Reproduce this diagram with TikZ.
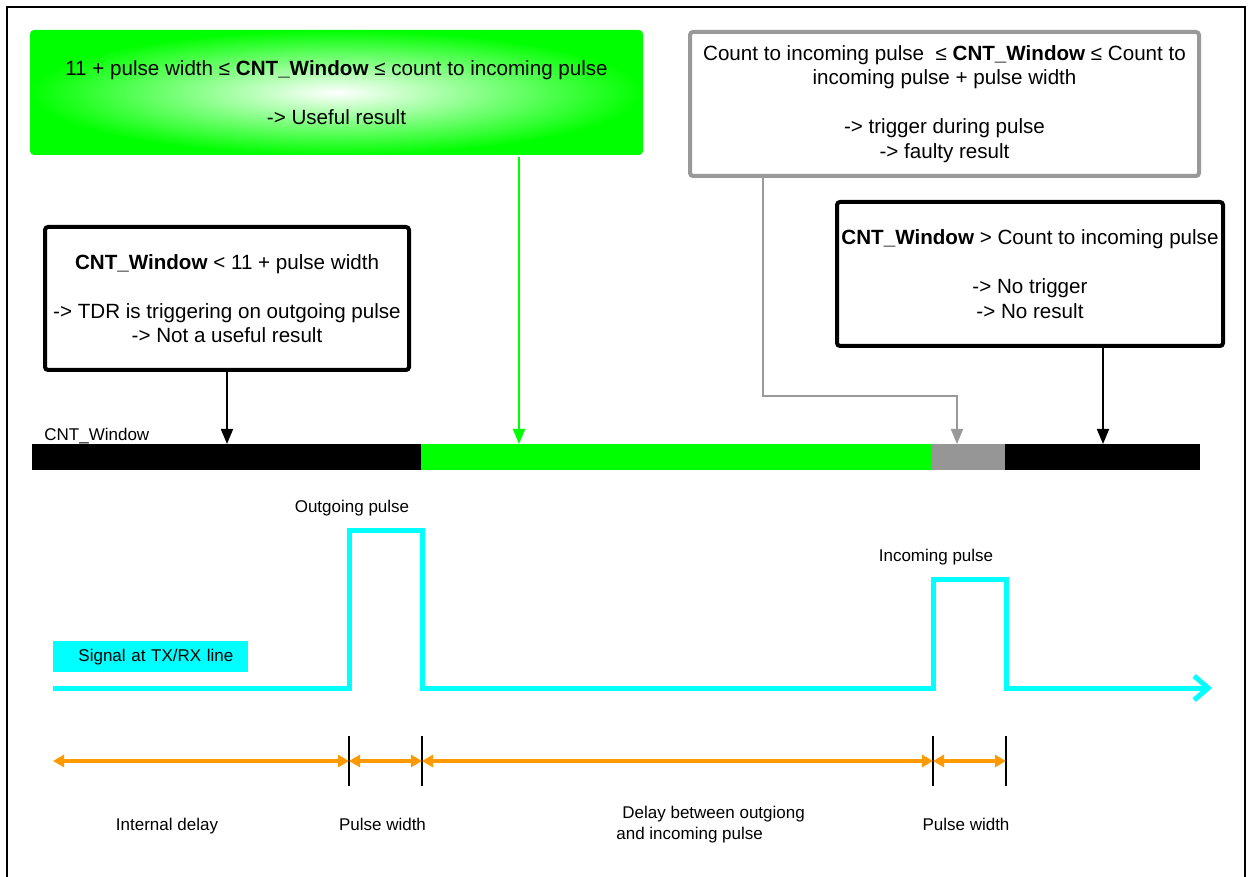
\documentclass[tikz,border=0pt]{standalone}
\usepackage{fontspec}
\setmainfont{Liberation Sans}
\usetikzlibrary{arrows.meta}
\definecolor{brightgreen}{RGB}{0,255,0}
\definecolor{pureCyan}{RGB}{0,255,255}
\definecolor{barGray}{RGB}{150,150,150}
\definecolor{lineGray}{RGB}{153,153,153}
\definecolor{dimOrange}{RGB}{255,153,0}
\newcommand{\boxfont}{\fontsize{10.3}{12.25}\selectfont}
\newcommand{\lblfont}{\fontsize{8.5}{10.5}\selectfont}
\tikzset{
  condbox/.style={draw=black, line width=2pt, rounded corners=1.5pt, align=center, inner sep=0pt, font=\boxfont},
  hint/.style={font=\lblfont, inner sep=0pt},
  barpart/.style={inner sep=0pt, minimum height=13pt, anchor=north west},
  pointer/.style={line width=0.9pt, -{Triangle[length=7.5pt,width=6pt]}},
  sigline/.style={pureCyan, line width=2.5pt},
  dimspan/.style={dimOrange, line width=2pt, {Triangle[length=5.5pt,width=6pt]}-{Triangle[length=5.5pt,width=6pt]}},
  dimtick/.style={line width=0.8pt}
}
\begin{document}
\begin{tikzpicture}[x=0.5pt, y=-0.5pt]
  \useasboundingbox (0,0) rectangle (1249,877);
  % Rahmen (unten offen)
  \draw[line width=0.6pt] (7,877) -- (7,7) -- (1245,7) -- (1245,877);

  % Bedingungen
  \node (useful) [condbox, draw=none, rounded corners=2pt, inner color=white, outer color=brightgreen,
    minimum width=306.5pt, minimum height=62.5pt] at (336.5,92.5)
    {11 + pulse width ≤ \textbf{CNT\_Window} ≤ count to incoming pulse\\[12.25pt]-> Useful result};
  \node (faulty) [condbox, draw=lineGray, minimum width=254.5pt, minimum height=72pt] at (944.5,104)
    {Count to incoming pulse \ ≤ \textbf{CNT\_Window} ≤ Count to\\incoming pulse + pulse width\\[12.25pt]-> trigger during pulse\\-> faulty result};
  \node (early) [condbox, minimum width=182pt, minimum height=71.5pt] at (227,298.5)
    {\textbf{CNT\_Window} < 11 + pulse width\\[12.25pt]-> TDR is triggering on outgoing pulse\\-> Not a useful result};
  \node (none) [condbox, minimum width=193pt, minimum height=72pt] at (1030,274)
    {\textbf{CNT\_Window} > Count to incoming pulse\\[12.25pt]-> No trigger\\-> No result};

  % CNT_Window Balken
  \node (segLow) [barpart, fill=black, minimum width=194.5pt] at (32,444) {};
  \node (segOk) [barpart, fill=brightgreen, minimum width=255pt] at (421,444) {};
  \node (segPulse) [barpart, fill=barGray, minimum width=37pt] at (931,444) {};
  \node (segHigh) [barpart, fill=black, minimum width=97.5pt] at (1005,444) {};
  \node (winlbl) [hint, anchor=base west] at (44,441) {CNT\_Window};

  % Pfeile auf den Balken
  \coordinate (hitG) at (519,444);
  \coordinate (bendF) at (763,396);
  \coordinate (hitF) at (957,444);
  \coordinate (hitN) at (1103,444);
  \draw[pointer] (early.south) -- (early.south |- segLow.north);
  \draw[pointer, brightgreen] (useful.south -| hitG) -- (hitG);
  \draw[pointer, lineGray] (faulty.south -| bendF) -- (bendF) -| (hitF);
  \draw[pointer] (none.south -| hitN) -- (hitN);

  % Signal
  \node (siglbl) [fill=pureCyan, font=\lblfont, inner xsep=7.5pt, inner ysep=0pt, text width=82.5pt, align=right,
    minimum height=15.5pt, anchor=north west] at (53,641) {Signal at TX/RX line};
  \draw[sigline, -{Straight Barb[length=7pt,width=12pt]}] (53,688) -- (349,688) -- (349,530) -- (422,530)
    -- (422,688) -- (933,688) -- (933,579) -- (1006,579) -- (1006,688) -- (1212,688);
  \node (outlbl) [hint, anchor=base] at (352,513) {Outgoing pulse};
  \node (inlbl) [hint, anchor=base] at (936,561) {Incoming pulse};

  % Zeitabschnitte
  \coordinate (t0) at (53,761);
  \coordinate (t1) at (349,761);
  \coordinate (t2) at (422,761);
  \coordinate (t3) at (933,761);
  \coordinate (t4) at (1006,761);
  \foreach \t in {t1,t2,t3,t4}
    \draw[dimtick] ([yshift=12.5pt]\t) -- ([yshift=-12.5pt]\t);
  \draw[dimspan] (t0) -- (t1);
  \draw[dimspan] (t1) -- (t2);
  \draw[dimspan] (t2) -- (t3);
  \draw[dimspan] (t3) -- (t4);
  \node (lblDelay) [hint, anchor=base] at (167,830) {Internal delay};
  \node (lblWidthA) [hint, anchor=base] at (382.5,830) {Pulse width};
  \node (lblGap) [hint, anchor=north west, align=left] at (616,806) {\hspace*{3pt}Delay between outgiong\\and incoming pulse};
  \node (lblWidthB) [hint, anchor=base] at (966,830) {Pulse width};
\end{tikzpicture}
\end{document}
